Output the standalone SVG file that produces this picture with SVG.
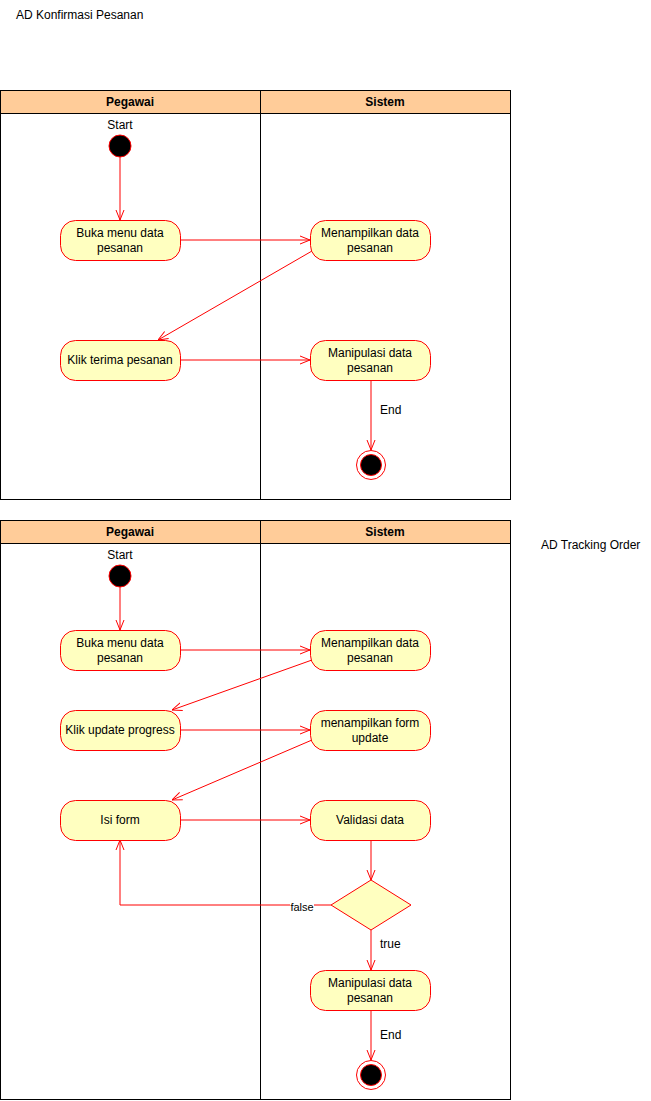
<svg xmlns="http://www.w3.org/2000/svg" width="651" height="1101" viewBox="0 0 651 1101">
<style>
text{font-family:"Liberation Sans",Arial,sans-serif;font-size:12px;fill:#000}
.hdr{fill:#FFCC99;stroke:#000;stroke-width:1}
.lane{fill:none;stroke:#000;stroke-width:1}
.ht{font-weight:bold;text-anchor:middle}
.act{fill:#FFFFC0;stroke:#FF0000;stroke-width:1}
.c{text-anchor:middle}
.e{fill:none;stroke:#FF0000;stroke-width:1}
.st{fill:#000;stroke:#FF0000;stroke-width:1}
</style>
<defs>
<marker id="a" viewBox="0 0 10 10" refX="10" refY="5" markerWidth="10" markerHeight="10" markerUnits="userSpaceOnUse" orient="auto">
<path d="M0,1 L10,5 L0,9" fill="none" stroke="#FF0000" stroke-width="1"/>
</marker>
</defs>
<rect width="651" height="1101" fill="#fff"/>
<text x="16" y="19">AD Konfirmasi Pesanan</text>
<text x="541" y="549">AD Tracking Order</text>

<g id="pool1">
<rect class="hdr" x="0.5" y="90.5" width="260" height="23"/>
<rect class="hdr" x="260.5" y="90.5" width="250" height="23"/>
<rect class="lane" x="0.5" y="113.5" width="260" height="386"/>
<rect class="lane" x="260.5" y="113.5" width="250" height="386"/>
<text class="ht" x="130" y="106">Pegawai</text>
<text class="ht" x="385" y="106">Sistem</text>
</g>
<g id="pool2">
<rect class="hdr" x="0.5" y="520.5" width="260" height="23"/>
<rect class="hdr" x="260.5" y="520.5" width="250" height="23"/>
<rect class="lane" x="0.5" y="543.5" width="260" height="556"/>
<rect class="lane" x="260.5" y="543.5" width="250" height="556"/>
<text class="ht" x="130" y="536">Pegawai</text>
<text class="ht" x="385" y="536">Sistem</text>
</g>

<g id="connectors">
<path class="e" d="M120,157 V220" marker-end="url(#a)"/>
<path class="e" d="M180,240 H310" marker-end="url(#a)"/>
<path class="e" d="M312,251 L158,340" marker-end="url(#a)"/>
<path class="e" d="M180,360 H310" marker-end="url(#a)"/>
<path class="e" d="M371,380 V450" marker-end="url(#a)"/>
<path class="e" d="M120,587 V630" marker-end="url(#a)"/>
<path class="e" d="M180,650 H310" marker-end="url(#a)"/>
<path class="e" d="M312,660 L172,710" marker-end="url(#a)"/>
<path class="e" d="M180,730 H310" marker-end="url(#a)"/>
<path class="e" d="M312,740 L172,800" marker-end="url(#a)"/>
<path class="e" d="M180,820 H310" marker-end="url(#a)"/>
<path class="e" d="M371,840 V880" marker-end="url(#a)"/>
<path class="e" d="M331,905 H120 V840" marker-end="url(#a)"/>
<path class="e" d="M371,930 V970" marker-end="url(#a)"/>
<path class="e" d="M371,1010 V1060" marker-end="url(#a)"/>
<rect x="290" y="900" width="24" height="13" fill="#fff"/>
<text x="302" y="911" class="c" style="font-size:11px">false</text>
<text x="380" y="948">true</text>
<text x="380" y="414">End</text>
<text x="380" y="1039">End</text>
</g>

<g id="start1"><text class="c" x="120" y="129">Start</text><circle class="st" cx="120" cy="146" r="11"/></g>
<g id="n1"><rect class="act" x="60.5" y="220.5" width="120" height="40" rx="15"/><text class="c" x="120" y="237">Buka menu data</text><text class="c" x="120" y="252">pesanan</text></g>
<g id="n2"><rect class="act" x="310.5" y="220.5" width="120" height="40" rx="15"/><text class="c" x="370" y="237">Menampilkan data</text><text class="c" x="370" y="252">pesanan</text></g>
<g id="n3"><rect class="act" x="60.5" y="340.5" width="120" height="40" rx="15"/><text class="c" x="120" y="364">Klik terima pesanan</text></g>
<g id="n4"><rect class="act" x="310.5" y="340.5" width="120" height="40" rx="15"/><text class="c" x="370" y="357">Manipulasi data</text><text class="c" x="370" y="372">pesanan</text></g>
<g id="end1"><circle cx="371" cy="465" r="14.5" fill="#fff" stroke="#FF0000"/><circle cx="371" cy="465" r="10.5" fill="#000" stroke="#FF0000"/></g>

<g id="start2"><text class="c" x="120" y="559">Start</text><circle class="st" cx="120" cy="576" r="11"/></g>
<g id="m1"><rect class="act" x="60.5" y="630.5" width="120" height="40" rx="15"/><text class="c" x="120" y="647">Buka menu data</text><text class="c" x="120" y="662">pesanan</text></g>
<g id="m2"><rect class="act" x="310.5" y="630.5" width="120" height="40" rx="15"/><text class="c" x="370" y="647">Menampilkan data</text><text class="c" x="370" y="662">pesanan</text></g>
<g id="m3"><rect class="act" x="60.5" y="710.5" width="120" height="40" rx="15"/><text class="c" x="120" y="734">Klik update progress</text></g>
<g id="m4"><rect class="act" x="310.5" y="710.5" width="120" height="40" rx="15"/><text class="c" x="370" y="727">menampilkan form</text><text class="c" x="370" y="742">update</text></g>
<g id="m5"><rect class="act" x="60.5" y="800.5" width="120" height="40" rx="15"/><text class="c" x="120" y="824">Isi form</text></g>
<g id="m6"><rect class="act" x="310.5" y="800.5" width="120" height="40" rx="15"/><text class="c" x="370" y="824">Validasi data</text></g>
<g id="dec"><path class="act" d="M371,880 L411,905 L371,930 L331,905 Z"/></g>
<g id="m7"><rect class="act" x="310.5" y="970.5" width="120" height="40" rx="15"/><text class="c" x="370" y="987">Manipulasi data</text><text class="c" x="370" y="1002">pesanan</text></g>
<g id="end2"><circle cx="371" cy="1075" r="14.5" fill="#fff" stroke="#FF0000"/><circle cx="371" cy="1075" r="10.5" fill="#000" stroke="#FF0000"/></g>
</svg>
